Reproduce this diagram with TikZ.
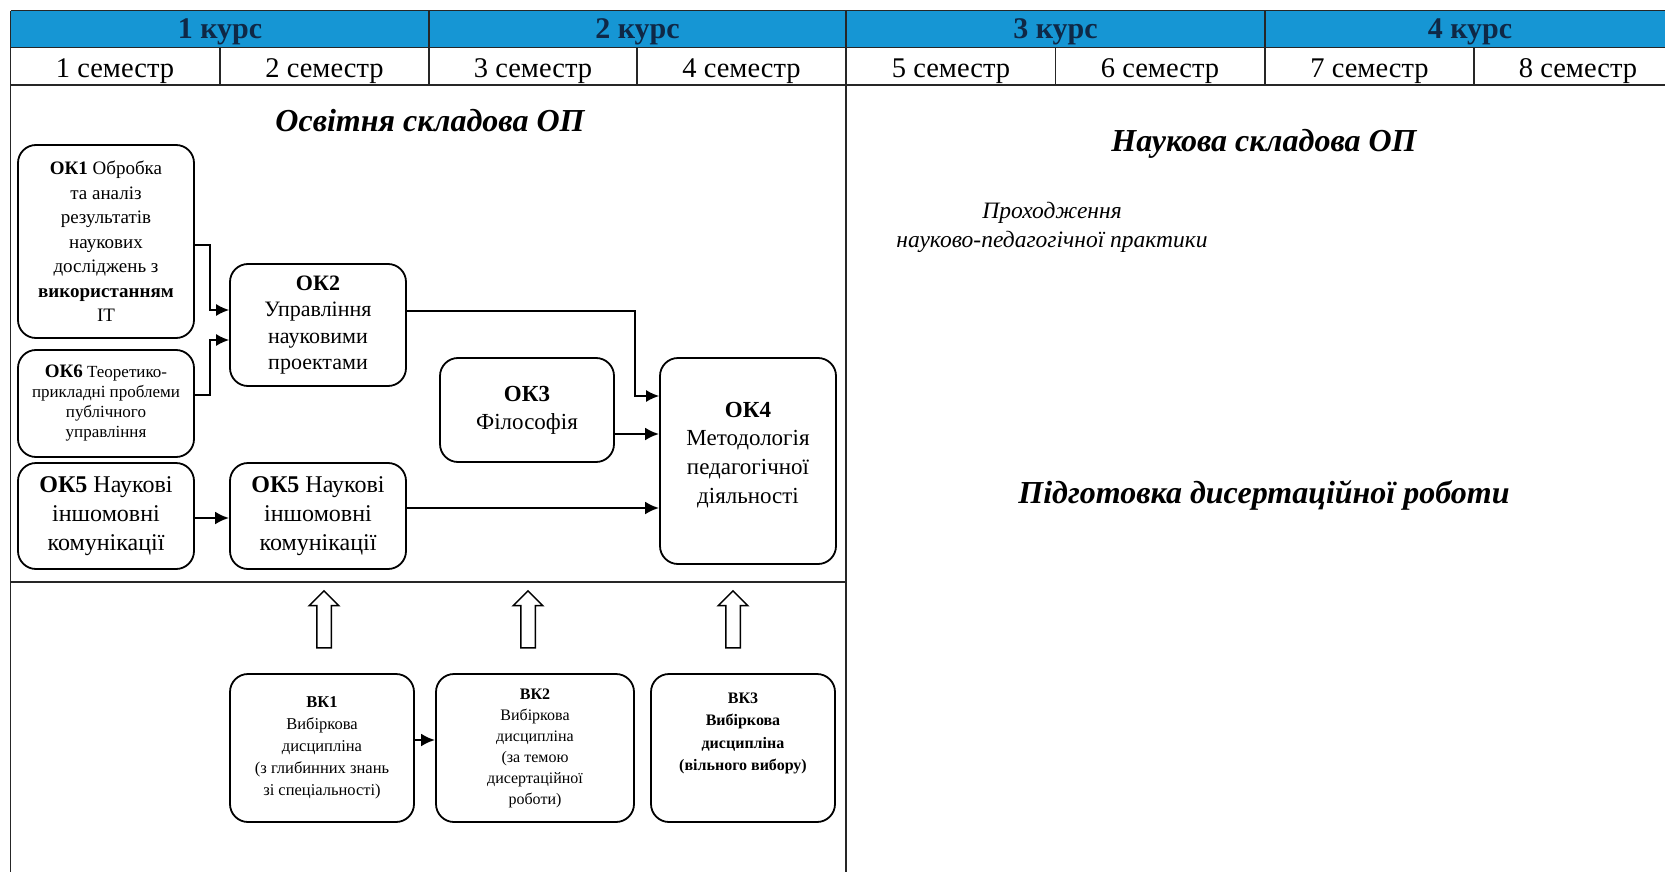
\documentclass[tikz,border=0pt]{standalone}
\usepackage{fontspec}
\setmainfont{Liberation Serif}
\usetikzlibrary{shapes.arrows,arrows.meta,calc}
\definecolor{hdrblue}{RGB}{22,150,212}
\definecolor{hdrtext}{RGB}{15,40,70}
\begin{document}
\begin{tikzpicture}[x=1pt,y=-1pt,
  grid/.style={line width=1.4pt, draw=black!85},
  box/.style={draw, line width=1.8pt, rounded corners=18pt, inner sep=2pt, align=center},
  conn/.style={line width=1.5pt, -{Latex[length=13pt,width=12pt]}},
  thickconn/.style={line width=2.6pt, -{Latex[length=14pt,width=13pt]}},
  hollow/.style={draw, line width=1.5pt, single arrow, rotate=90, minimum height=57pt, minimum width=28pt, inner sep=6.5pt, single arrow head extend=7.5pt},
  course/.style={font=\fontsize{30}{30}\selectfont\bfseries, text=hdrtext},
  sem/.style={font=\fontsize{28.5}{28.5}\selectfont},
  heading/.style={font=\fontsize{32}{36}\selectfont\bfseries\itshape}
]
\useasboundingbox (0,0) rectangle (1665,872);
% header table
\fill[hdrblue] (10.6,10.6) rectangle (1670,47.8);
\draw[grid] (10.6,10.6) -- (1670,10.6);
\draw[grid] (10.6,47.8) -- (1670,47.8);
\draw[grid] (10.6,85) -- (1670,85);
\draw[grid] (10.6,10.6) -- (10.6,872);
\foreach \x in {429,846,1265} \draw[grid] (\x,10.6) -- (\x,85);
\foreach \x in {220,637,1055.5,1474} \draw[grid] (\x,47.8) -- (\x,85);
\draw[grid] (846,85) -- (846,872);
\draw[grid] (10.6,582) -- (846,582);
\node[course] (c1) at (220,32) {1 курс};
\node[course] (c2) at (637.5,32) {2 курс};
\node[course] (c3) at (1055.5,32) {3 курс};
\node[course] (c4) at (1470,32) {4 курс};
\node[sem] (s1) at (115,71) {1 семестр};
\node[sem] (s2) at (324.5,71) {2 семестр};
\node[sem] (s3) at (533,71) {3 семестр};
\node[sem] (s4) at (741.5,71) {4 семестр};
\node[sem] (s5) at (951,71) {5 семестр};
\node[sem] (s6) at (1160,71) {6 семестр};
\node[sem] (s7) at (1369.5,71) {7 семестр};
\node[sem] (s8) at (1578,71) {8 семестр};
% headings
\node[heading] (h1) at (430,121) {Освітня складова ОП};
\node[heading] (h2) at (1264,144) {Наукова складова ОП};
\node[font=\fontsize{23.5}{29}\selectfont\itshape, align=center] (pr) at (1052,227) {Проходження\\науково-педагогічної практики};
\node[heading] (pd) at (1264,495) {Підготовка дисертаційної роботи};
% boxes
\node[box, minimum width=176pt, minimum height=193pt, font=\fontsize{19}{24.5}\selectfont] (ok1) at (106,241.5)
  {\textbf{ОК1} Обробка\\та аналіз\\результатів\\наукових\\досліджень з\\\textbf{використанням}\\IT};
\node[box, minimum width=176pt, minimum height=107pt, font=\fontsize{17}{20}\selectfont] (ok6) at (106,403.5)
  {{\fontsize{19}{20}\selectfont\textbf{ОК6}} Теоретико-\\прикладні проблеми\\публічного\\управління};
\node[box, minimum width=176pt, minimum height=106pt, font=\fontsize{24}{28.7}\selectfont] (ok5a) at (106,516)
  {\textbf{ОК5} Наукові\\іншомовні\\комунікації};
\node[box, minimum width=176pt, minimum height=122pt, font=\fontsize{22}{26.5}\selectfont] (ok2) at (318,325)
  {\textbf{ОК2}\\Управління\\науковими\\проектами};
\node[box, minimum width=176pt, minimum height=106pt, font=\fontsize{24}{28.7}\selectfont] (ok5b) at (318,516)
  {\textbf{ОК5} Наукові\\іншомовні\\комунікації};
\node[box, minimum width=174pt, minimum height=104pt, font=\fontsize{23}{28}\selectfont] (ok3) at (527,410)
  {\textbf{ОК3}\\Філософія};
\node[box, minimum width=176pt, minimum height=206pt, font=\fontsize{23}{28.7}\selectfont, text depth=17pt] (ok4) at (748,461)
  {\textbf{ОК4}\\Методологія\\педагогічної\\діяльності};
\node[box, minimum width=184pt, minimum height=148pt, font=\fontsize{16.5}{22}\selectfont] (vk1) at (322,748)
  {\textbf{ВК1}\\Вибіркова\\дисципліна\\(з глибинних знань\\зі спеціальності)};
\node[box, minimum width=198pt, minimum height=148pt, font=\fontsize{16}{21}\selectfont] (vk2) at (535,748)
  {\textbf{ВК2}\\Вибіркова\\дисципліна\\(за темою\\дисертаційної\\роботи)};
\node[box, minimum width=184pt, minimum height=148pt, font=\fontsize{16}{22.5}\selectfont\bfseries, text depth=33pt] (vk3) at (743,748)
  {ВК3\\Вибіркова\\дисципліна\\(вільного вибору)};
% hollow arrows
\node[hollow] (up1) at (324,623) {};
\node[hollow] (up2) at (528,623) {};
\node[hollow] (up3) at (733,623) {};
% connectors
\draw[conn] ($(ok1.east)+(0,3.5)$) -- ++(15,0) |- ($(ok2.west)+(0,-15)$);
\draw[conn] ($(ok6.east)+(0,-8.5)$) -- ++(15,0) |- ($(ok2.west)+(0,15)$);
\draw[conn] ($(ok2.east)+(0,-14)$) -- ++(228,0) |- ($(ok4.west)+(0,-65)$);
\draw[thickconn] ($(ok3.east)+(0,24)$) coordinate (t3) -- (t3 -| ok4.west);
\draw[thickconn] ($(ok5b.east)+(0,-8)$) coordinate (t5) -- (t5 -| ok4.west);
\draw[thickconn] ($(ok5a.east)+(0,2)$) coordinate (t5a) -- (t5a -| ok5b.west);
\draw[thickconn] ($(vk1.east)+(0,-8)$) coordinate (tv) -- (tv -| vk2.west);
\end{tikzpicture}
\end{document}
